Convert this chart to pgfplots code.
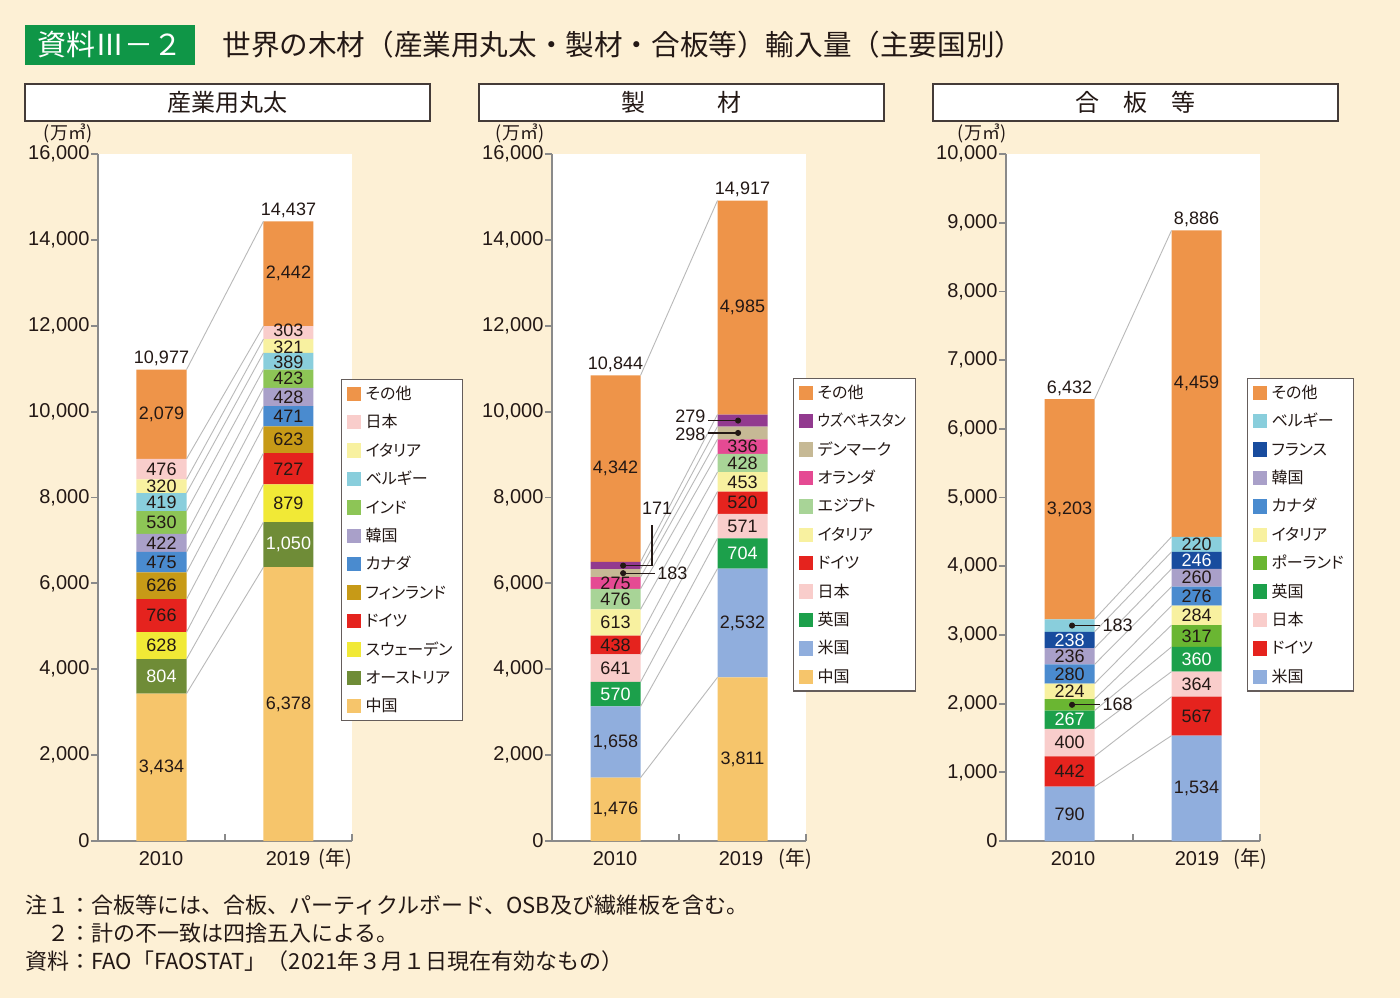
\documentclass[border=0pt]{standalone}
\usepackage{graphicx}
\usepackage{pgfplots}
\pgfplotsset{compat=1.18}
\usepackage{fontspec}
\setmainfont{Noto Sans CJK JP}
\newfontfamily\nf{Liberation Sans}
\newfontfamily\jpl{Noto Sans CJK JP}[RawFeature=+palt]

\definecolor{bg}{HTML}{FDF0D5}
\definecolor{tgreen}{HTML}{0F9647}
\definecolor{tx}{HTML}{231815}
\definecolor{axg}{HTML}{8A8A8A}
\definecolor{cOther}{HTML}{EE9449}
\definecolor{cJapan}{HTML}{F9CDCB}
\definecolor{cItaly}{HTML}{F8F1A0}
\definecolor{cBelg}{HTML}{89CEDC}
\definecolor{cIndia}{HTML}{8DC556}
\definecolor{cKorea}{HTML}{A9A0C9}
\definecolor{cCanada}{HTML}{4A8BCF}
\definecolor{cFin}{HTML}{C79A17}
\definecolor{cGer}{HTML}{E5231E}
\definecolor{cSwe}{HTML}{F1E936}
\definecolor{cAut}{HTML}{6F8C37}
\definecolor{cChina}{HTML}{F6C56B}
\definecolor{cUzb}{HTML}{923A8F}
\definecolor{cDen}{HTML}{C6B995}
\definecolor{cNeth}{HTML}{E54A93}
\definecolor{cEgy}{HTML}{A8D497}
\definecolor{cUK}{HTML}{1CA04B}
\definecolor{cUS}{HTML}{90AEDD}
\definecolor{cFra}{HTML}{184C9E}
\definecolor{cPol}{HTML}{6AB632}

\pgfplotsset{
  sq/.style={fill=#1, draw=none,
    legend image code/.code={\fill[#1] (0pt,-3.6pt) rectangle (7.2pt,3.6pt);}},
  panel/.style={scale only axis, width=127pt, height=343.5pt,
    xmin=0, xmax=4, ymin=0, anchor=south west},
  base/.style={panel,
    axis background/.style={fill=white},
    ybar stacked, bar width=25pt,
    axis x line=bottom, axis y line=left,
    axis line style={-, draw=axg, line width=0.9pt},
    every outer x axis line/.append style={-},
    every outer y axis line/.append style={-},
    tick align=outside, major tick length=3.5pt,
    tick style={draw=axg, line width=0.9pt},
    xtick={0,2,4}, xticklabels={},
    every major x tick/.append style={yshift=3.5pt},
    scaled y ticks=false,
    yticklabel style={font=\nf\fontsize{10}{10}\selectfont, text=tx, inner sep=0.6pt,
      /pgf/number format/.cd, fixed, 1000 sep={,}, assume math mode=true},
    legend cell align=left, reverse legend,
    legend style={anchor=north west, draw=tx!70, line width=0.6pt, fill=white,
      font=\jpl\fontsize{8}{9}\selectfont, text=tx, inner xsep=2.5pt, inner ysep=0pt, row sep=0pt,
      nodes={inner xsep=2.3pt, inner ysep=0pt, text height=9.9pt, text depth=4.3pt}},
  },
  over/.style={panel, hide axis, clip=false},
  ln/.style={draw=gray!55, line width=0.45pt, no marks, unbounded coords=jump},
  dot/.style={only marks, mark=*, mark size=1.3pt, tx},
}
\tikzset{
  v/.style={font=\nf\fontsize{9}{9}\selectfont, text=tx, inner sep=0pt},
  w/.style={v, text=white},
  tot/.style={v, anchor=south, yshift=1.5pt},
  yr/.style={font=\nf\fontsize{10}{10}\selectfont, text=tx},
  cl/.style={draw=tx, line width=0.6pt},
  note/.style={anchor=west, inner sep=0pt, text=tx, font=\fontsize{11}{11}\selectfont},
}

\begin{document}
\begin{tikzpicture}[x=0.5pt, y=-0.5pt]
\fill[bg] (0,0) rectangle (1400,998);

% title
\fill[tgreen] (25,25) rectangle (195,65);
\node[text=white, font=\fontsize{14.5}{15}\selectfont] at (110,45) {資料Ⅲ－２};
\node[anchor=west, inner sep=0pt, text=tx, font=\fontsize{14.3}{15}\selectfont] at (222,45)
  {世界の木材（産業用丸太・製材・合板等）輸入量（主要国別）};

% panel headers
\foreach \xa/\xb in {25/430, 479/884, 933/1338}
  \draw[draw=tx!85, line width=1pt, fill=white] (\xa,84) rectangle (\xb,121);
\node[text=tx, font=\fontsize{12}{12}\selectfont] at (227.5,102) {産業用丸太};
\node[text=tx, font=\fontsize{12}{12}\selectfont] at (681.5,102) {製　　　材};
\node[text=tx, font=\fontsize{12}{12}\selectfont] at (1135.5,102) {合　板　等};

% units and years
\foreach \ux in {68, 520, 982}
  \node[text=tx, font=\fontsize{9}{9}\selectfont] at (\ux,133) {(万㎥)};
\foreach \a/\b/\c in {161/288/335, 615/741/795, 1073/1197/1250} {
  \node[yr] at (\a,859) {2010};
  \node[yr] at (\b,859) {2019};
  \node[text=tx, font=\fontsize{10}{10}\selectfont] at (\c,859) {(年)};
}

% ===== 産業用丸太 =====
\begin{axis}[base, at={(49pt,-420.5pt)}, ymax=16000, ytick={0,2000,...,16000},
  legend style={at={(0.957,0.6725)}}]
\addplot[sq=cChina]  coordinates {(1,3434) (3,6378)}; \addlegendentry{中国}
\addplot[sq=cAut]    coordinates {(1,804) (3,1050)};  \addlegendentry{オーストリア}
\addplot[sq=cSwe]    coordinates {(1,628) (3,879)};   \addlegendentry{スウェーデン}
\addplot[sq=cGer]    coordinates {(1,766) (3,727)};   \addlegendentry{ドイツ}
\addplot[sq=cFin]    coordinates {(1,626) (3,623)};   \addlegendentry{フィンランド}
\addplot[sq=cCanada] coordinates {(1,475) (3,471)};   \addlegendentry{カナダ}
\addplot[sq=cKorea]  coordinates {(1,422) (3,428)};   \addlegendentry{韓国}
\addplot[sq=cIndia]  coordinates {(1,530) (3,423)};   \addlegendentry{インド}
\addplot[sq=cBelg]   coordinates {(1,419) (3,389)};   \addlegendentry{ベルギー}
\addplot[sq=cItaly]  coordinates {(1,320) (3,321)};   \addlegendentry{イタリア}
\addplot[sq=cJapan]  coordinates {(1,476) (3,303)};   \addlegendentry{日本}
\addplot[sq=cOther]  coordinates {(1,2079) (3,2442)}; \addlegendentry{その他}
\end{axis}
\begin{axis}[over, at={(49pt,-420.5pt)}, ymax=16000]
\addplot[ln] coordinates {
  (1.394,3434)(2.606,6378) (nan,nan) (1.394,4238)(2.606,7428) (nan,nan)
  (1.394,4866)(2.606,8307) (nan,nan) (1.394,5632)(2.606,9034) (nan,nan)
  (1.394,6258)(2.606,9657) (nan,nan) (1.394,6733)(2.606,10128) (nan,nan)
  (1.394,7155)(2.606,10556) (nan,nan) (1.394,7685)(2.606,10979) (nan,nan)
  (1.394,8104)(2.606,11368) (nan,nan) (1.394,8424)(2.606,11689) (nan,nan)
  (1.394,8900)(2.606,11992) (nan,nan) (1.394,10979)(2.606,14434)};
\node[v] at (axis cs:1,1717) {3,434};
\node[w] at (axis cs:1,3836) {804};
\node[v] at (axis cs:1,4552) {628};
\node[v] at (axis cs:1,5249) {766};
\node[v] at (axis cs:1,5945) {626};
\node[v] at (axis cs:1,6495) {475};
\node[v] at (axis cs:1,6944) {422};
\node[v] at (axis cs:1,7420) {530};
\node[v] at (axis cs:1,7894) {419};
\node[v] at (axis cs:1,8264) {320};
\node[v] at (axis cs:1,8662) {476};
\node[v] at (axis cs:1,9940) {2,079};
\node[tot] at (axis cs:1,10979) {10,977};
\node[v] at (axis cs:3,3189) {6,378};
\node[w] at (axis cs:3,6903) {1,050};
\node[v] at (axis cs:3,7867) {879};
\node[v] at (axis cs:3,8670) {727};
\node[v] at (axis cs:3,9345) {623};
\node[v] at (axis cs:3,9892) {471};
\node[v] at (axis cs:3,10342) {428};
\node[v] at (axis cs:3,10767) {423};
\node[v] at (axis cs:3,11150) {389};
\node[v] at (axis cs:3,11500) {321};
\node[v] at (axis cs:3,11900) {303};
\node[v] at (axis cs:3,13213) {2,442};
\node[tot] at (axis cs:3,14434) {14,437};
\end{axis}

% ===== 製材 =====
\begin{axis}[base, at={(276pt,-420.5pt)}, ymax=16000, ytick={0,2000,...,16000},
  legend style={at={(0.949,0.674)}}]
\addplot[sq=cChina] coordinates {(1,1476) (3,3811)}; \addlegendentry{中国}
\addplot[sq=cUS]    coordinates {(1,1658) (3,2532)}; \addlegendentry{米国}
\addplot[sq=cUK]    coordinates {(1,570) (3,704)};   \addlegendentry{英国}
\addplot[sq=cJapan] coordinates {(1,641) (3,571)};   \addlegendentry{日本}
\addplot[sq=cGer]   coordinates {(1,438) (3,520)};   \addlegendentry{ドイツ}
\addplot[sq=cItaly] coordinates {(1,613) (3,453)};   \addlegendentry{イタリア}
\addplot[sq=cEgy]   coordinates {(1,476) (3,428)};   \addlegendentry{エジプト}
\addplot[sq=cNeth]  coordinates {(1,275) (3,336)};   \addlegendentry{オランダ}
\addplot[sq=cDen]   coordinates {(1,183) (3,298)};   \addlegendentry{デンマーク}
\addplot[sq=cUzb]   coordinates {(1,171) (3,279)};   \addlegendentry{\scalebox{0.86}[1]{ウズベキスタン}}
\addplot[sq=cOther] coordinates {(1,4342) (3,4985)}; \addlegendentry{その他}
\end{axis}
\begin{axis}[over, at={(276pt,-420.5pt)}, ymax=16000]
\addplot[ln] coordinates {
  (1.394,1476)(2.606,3811) (nan,nan) (1.394,3134)(2.606,6343) (nan,nan)
  (1.394,3704)(2.606,7047) (nan,nan) (1.394,4345)(2.606,7618) (nan,nan)
  (1.394,4783)(2.606,8138) (nan,nan) (1.394,5396)(2.606,8591) (nan,nan)
  (1.394,5872)(2.606,9019) (nan,nan) (1.394,6147)(2.606,9355) (nan,nan)
  (1.394,6330)(2.606,9653) (nan,nan) (1.394,6501)(2.606,9932) (nan,nan)
  (1.394,10843)(2.606,14917)};
\addplot[dot] coordinates {(1.12,6415) (1.12,6238) (2.93,9792) (2.93,9504)};
\draw[cl] (axis cs:1.12,6415) -- (axis cs:1.575,6415) -- (axis cs:1.575,7360);
\node[v] at (axis cs:1.654,7755) {171};
\draw[cl] (axis cs:1.12,6238) -- (axis cs:1.62,6238) node[v, anchor=west, xshift=1pt] {183};
\draw[cl] (axis cs:2.93,9792) -- (axis cs:2.457,9792) node[v, anchor=east, xshift=-1pt, yshift=2pt] {279};
\draw[cl] (axis cs:2.93,9504) -- (axis cs:2.457,9504) node[v, anchor=east, xshift=-1pt, yshift=-0.5pt] {298};
\node[v] at (axis cs:1,738) {1,476};
\node[v] at (axis cs:1,2305) {1,658};
\node[w] at (axis cs:1,3419) {570};
\node[v] at (axis cs:1,4024) {641};
\node[v] at (axis cs:1,4564) {438};
\node[v] at (axis cs:1,5089) {613};
\node[v] at (axis cs:1,5634) {476};
\node[v] at (axis cs:1,6009) {275};
\node[v] at (axis cs:1,8672) {4,342};
\node[tot] at (axis cs:1,10843) {10,844};
\node[v] at (axis cs:3,1905) {3,811};
\node[v] at (axis cs:3,5077) {2,532};
\node[w] at (axis cs:3,6695) {704};
\node[v] at (axis cs:3,7332) {571};
\node[v] at (axis cs:3,7878) {520};
\node[v] at (axis cs:3,8364) {453};
\node[v] at (axis cs:3,8805) {428};
\node[v] at (axis cs:3,9187) {336};
\node[v] at (axis cs:3,12424) {4,985};
\node[tot] at (axis cs:3,14917) {14,917};
\end{axis}

% ===== 合板等 =====
\begin{axis}[base, at={(503pt,-420.5pt)}, ymax=10000, ytick={0,1000,...,10000},
  legend style={at={(0.949,0.674)}}]
\addplot[sq=cUS]     coordinates {(1,790) (3,1534)};  \addlegendentry{米国}
\addplot[sq=cGer]    coordinates {(1,442) (3,567)};   \addlegendentry{ドイツ}
\addplot[sq=cJapan]  coordinates {(1,400) (3,364)};   \addlegendentry{日本}
\addplot[sq=cUK]     coordinates {(1,267) (3,360)};   \addlegendentry{英国}
\addplot[sq=cPol]    coordinates {(1,168) (3,317)};   \addlegendentry{ポーランド}
\addplot[sq=cItaly]  coordinates {(1,224) (3,284)};   \addlegendentry{イタリア}
\addplot[sq=cCanada] coordinates {(1,280) (3,276)};   \addlegendentry{カナダ}
\addplot[sq=cKorea]  coordinates {(1,236) (3,260)};   \addlegendentry{韓国}
\addplot[sq=cFra]    coordinates {(1,238) (3,246)};   \addlegendentry{フランス}
\addplot[sq=cBelg]   coordinates {(1,183) (3,220)};   \addlegendentry{ベルギー}
\addplot[sq=cOther]  coordinates {(1,3203) (3,4459)}; \addlegendentry{その他}
\end{axis}
\begin{axis}[over, at={(503pt,-420.5pt)}, ymax=10000]
\addplot[ln] coordinates {
  (1.394,790)(2.606,1534) (nan,nan) (1.394,1232)(2.606,2101) (nan,nan)
  (1.394,1632)(2.606,2465) (nan,nan) (1.394,1899)(2.606,2825) (nan,nan)
  (1.394,2067)(2.606,3142) (nan,nan) (1.394,2291)(2.606,3426) (nan,nan)
  (1.394,2571)(2.606,3702) (nan,nan) (1.394,2807)(2.606,3962) (nan,nan)
  (1.394,3045)(2.606,4208) (nan,nan) (1.394,3228)(2.606,4428) (nan,nan)
  (1.394,6431)(2.606,8887)};
\addplot[dot] coordinates {(1.04,3136) (1.04,1983)};
\draw[cl] (axis cs:1.04,3136) -- (axis cs:1.48,3136) node[v, anchor=west, xshift=1pt] {183};
\draw[cl] (axis cs:1.04,1983) -- (axis cs:1.48,1983) node[v, anchor=west, xshift=1pt] {168};
\node[v] at (axis cs:1,395) {790};
\node[v] at (axis cs:1,1011) {442};
\node[v] at (axis cs:1,1432) {400};
\node[w] at (axis cs:1,1765) {267};
\node[v] at (axis cs:1,2179) {224};
\node[v] at (axis cs:1,2431) {280};
\node[v] at (axis cs:1,2689) {236};
\node[w] at (axis cs:1,2926) {238};
\node[v] at (axis cs:1,4829) {3,203};
\node[tot] at (axis cs:1,6431) {6,432};
\node[v] at (axis cs:3,767) {1,534};
\node[v] at (axis cs:3,1817) {567};
\node[v] at (axis cs:3,2283) {364};
\node[w] at (axis cs:3,2645) {360};
\node[v] at (axis cs:3,2983) {317};
\node[v] at (axis cs:3,3284) {284};
\node[v] at (axis cs:3,3564) {276};
\node[v] at (axis cs:3,3832) {260};
\node[w] at (axis cs:3,4085) {246};
\node[v] at (axis cs:3,4318) {220};
\node[v] at (axis cs:3,6657) {4,459};
\node[tot] at (axis cs:3,8887) {8,886};
\end{axis}

% notes
\node[note] at (25,905) {注１：合板等には、合板、パーティクルボード、OSB及び繊維板を含む。};
\node[note] at (25,933) {\phantom{注}２：計の不一致は四捨五入による。};
\node[note] at (25,961) {資料：FAO「FAOSTAT」（2021年３月１日現在有効なもの）};
\end{tikzpicture}
\end{document}
